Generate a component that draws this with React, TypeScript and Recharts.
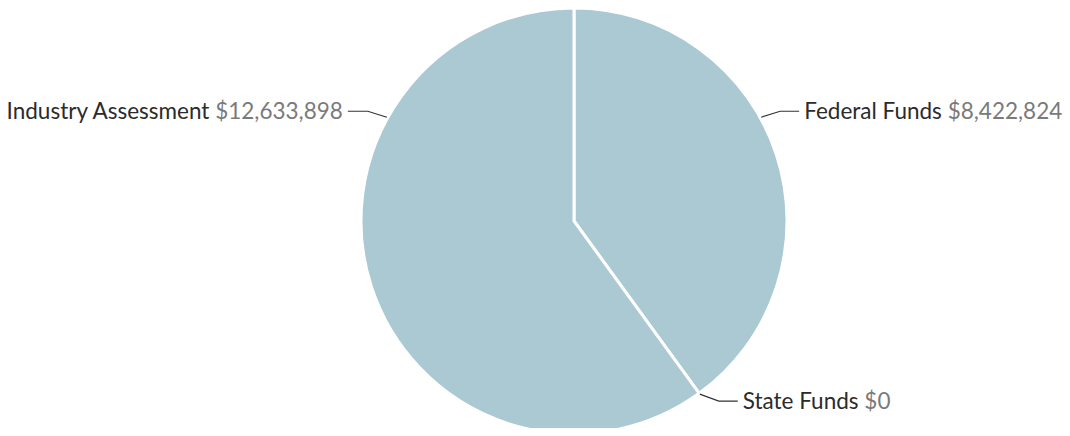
import React from "react";
import { PieChart, Pie, Cell } from "recharts";

// Funding sources
const SOURCES = ["Federal Funds", "State Funds", "Industry Assessment"];
const AMOUNTS = [8422824, 0, 12633898];
// angle (deg) on the rim where each leader line starts
const LABEL_ANGLES = [29, -54, 151];

const FILL = "#abc9d2";
const NAME_COLOR = "#2b2b2b";
const VALUE_COLOR = "#7a7a7a";
const RADIAN = Math.PI / 180;

function money(v: number): string {
  return `$${v.toLocaleString("en-US")}`;
}

const data = SOURCES.map((name, i) => ({ name, value: AMOUNTS[i] }));

function renderLabel(props: any) {
  const { cx, cy, outerRadius, index } = props;
  const a = LABEL_ANGLES[index];
  const cos = Math.cos(-a * RADIAN);
  const sin = Math.sin(-a * RADIAN);
  const sx = cx + (outerRadius + 1) * cos;
  const sy = cy + (outerRadius + 1) * sin;
  const right = cos >= 0;
  const ex = sx + (right ? 19 : -19);
  const ey = sy + (sin < 0 ? -6 : 7);
  const tx = ex + (right ? 19 : -20);
  const textX = tx + (right ? 5 : -5);
  return (
    <g key={`lbl-${index}`}>
      <polyline
        points={`${sx},${sy} ${ex},${ey} ${tx},${ey}`}
        fill="none"
        stroke="#333"
        strokeWidth={1.2}
      />
      <text
        x={textX}
        y={ey}
        dy="0.36em"
        textAnchor={right ? "start" : "end"}
        fontFamily="Lato, sans-serif"
        fontSize={22.5}
      >
        <tspan fill={NAME_COLOR}>{SOURCES[index]} </tspan>
        <tspan fill={VALUE_COLOR}>{money(AMOUNTS[index])}</tspan>
      </text>
    </g>
  );
}

export default function App() {
  return (
    <div style={{ margin: -8, width: 1070, height: 436, background: "#fff" }}>
      <PieChart width={1070} height={436} margin={{ top: 0, right: 0, bottom: 0, left: 0 }}>
        <Pie
          data={data}
          dataKey="value"
          nameKey="name"
          cx={574}
          cy={221}
          outerRadius={213}
          startAngle={90}
          endAngle={-270}
          stroke="#fff"
          strokeWidth={3}
          label={renderLabel}
          labelLine={false}
          isAnimationActive={false}
        >
          {data.map((_, i) => (
            <Cell key={i} fill={FILL} />
          ))}
        </Pie>
      </PieChart>
    </div>
  );
}
